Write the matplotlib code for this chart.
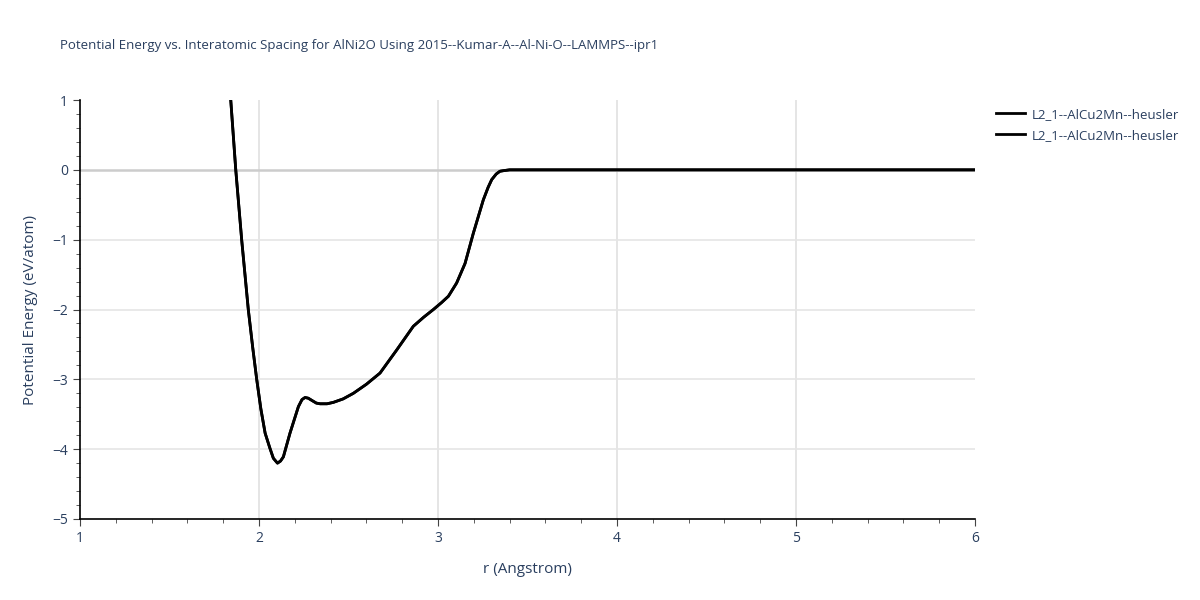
import matplotlib.pyplot as plt
from matplotlib.ticker import MultipleLocator

plt.rcParams['font.family'] = ['Open Sans', 'DejaVu Sans']

# values
r_vals = [1.842, 1.870, 1.903, 1.940, 1.965, 1.987, 2.010, 2.034, 2.060, 2.080,
          2.103, 2.120, 2.136, 2.173, 2.220, 2.240, 2.257, 2.275, 2.294, 2.320,
          2.341, 2.380, 2.415, 2.470, 2.527, 2.600, 2.676, 2.769, 2.862, 2.920,
          2.974, 3.020, 3.058, 3.104, 3.151, 3.197, 3.253, 3.280, 3.300, 3.325,
          3.346, 3.370, 3.400, 3.600, 4.000, 4.500, 5.000, 5.500, 6.000]
energy = [1.00, 0.00, -1.00, -2.00, -2.55, -3.00, -3.42, -3.77, -3.98, -4.13,
          -4.20, -4.17, -4.11, -3.77, -3.39, -3.29, -3.26, -3.27, -3.30, -3.34,
          -3.35, -3.35, -3.33, -3.28, -3.20, -3.07, -2.91, -2.58, -2.24, -2.11,
          -2.00, -1.90, -1.81, -1.62, -1.34, -0.91, -0.43, -0.25, -0.14, -0.06,
          -0.02, -0.01, 0.00, 0.00, 0.00, 0.00, 0.00, 0.00, 0.00]
series_names = ["L2_1--AlCu2Mn--heusler", "L2_1--AlCu2Mn--heusler"]

x_range = (1, 6)
y_range = (-5, 1)

text_col = "#2a3f5f"


def main():
    fig = plt.figure(figsize=(12, 6), dpi=100)
    ax = fig.add_axes([0.0667, 0.135, 0.7458, 0.6983])

    for name in series_names:
        ax.plot(r_vals, energy, color="black", lw=2, label=name,
                solid_joinstyle="round", zorder=3)

    ax.set_xlim(*x_range)
    ax.set_ylim(*y_range)
    ax.xaxis.set_major_locator(MultipleLocator(1))
    ax.xaxis.set_minor_locator(MultipleLocator(0.2))
    ax.yaxis.set_major_locator(MultipleLocator(1))
    ax.yaxis.set_minor_locator(MultipleLocator(0.2))

    # grid only inside the plot area, like plotly
    for xv in range(x_range[0] + 1, x_range[1]):
        ax.axvline(xv, color="#e0e0e0", lw=1.2, zorder=1)
    for yv in range(y_range[0] + 1, y_range[1]):
        if yv == 0:
            ax.axhline(yv, color="#cccccc", lw=1.8, zorder=1)
        else:
            ax.axhline(yv, color="#e5e5e5", lw=1.2, zorder=1)

    for side in ["top", "right"]:
        ax.spines[side].set_visible(False)
    for side in ["left", "bottom"]:
        ax.spines[side].set_color("black")
        ax.spines[side].set_linewidth(1.2)

    ax.tick_params(which="major", direction="out", length=5, color="#444444",
                   labelcolor=text_col, labelsize=10)
    ax.tick_params(which="minor", direction="out", length=3, color="#444444")

    ax.set_xlabel("r (Angstrom)", color=text_col, fontsize=11, labelpad=12)
    ax.set_ylabel("Potential Energy (eV/atom)", color=text_col, fontsize=11, labelpad=10)

    fig.text(0.05, 0.925, "Potential Energy vs. Interatomic Spacing for AlNi2O Using "
             "2015--Kumar-A--Al-Ni-O--LAMMPS--ipr1", color=text_col, fontsize=9.5,
             va="center")

    ax.legend(loc="upper left", bbox_to_anchor=(1.015, 1.0), frameon=False,
              fontsize=9.5, labelcolor=text_col, handlelength=2.2,
              handletextpad=0.5, labelspacing=0.6, borderaxespad=0.2)

    fig.savefig("out.png", dpi=100)


if __name__ == "__main__":
    main()
